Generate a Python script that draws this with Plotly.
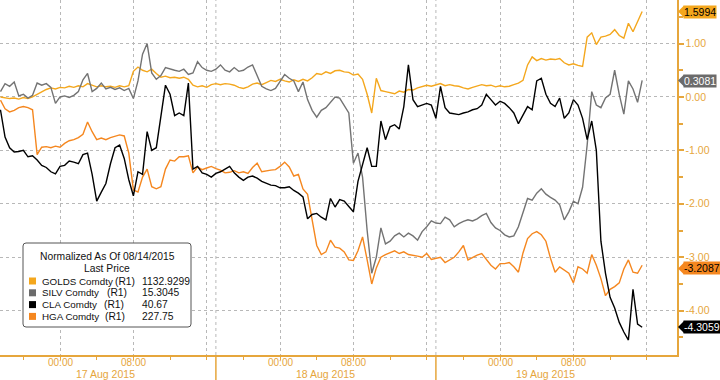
import plotly.graph_objects as go
import pandas as pd

# ---------------- data (normalized change, %), 30-minute samples ----------------
start_time = "2015-08-16 17:30"
sample_freq = "30min"

golds = [0.00, -0.02, -0.03, -0.02, -0.04, -0.01, -0.03, 0.00, 0.05, 0.10,
         0.14, 0.17, 0.15, 0.18, 0.17, 0.20, 0.18, 0.21, 0.19, 0.25,
         0.22, 0.19, 0.21, 0.19, 0.20, 0.18, 0.21, 0.19, 0.21, 0.48,
         0.56, 0.50, 0.47, 0.52, 0.44, 0.37, 0.39, 0.36, 0.37, 0.35,
         0.37, 0.33, 0.22, 0.19, 0.21, 0.18, 0.23, 0.25, 0.23, 0.25,
         0.24, 0.22, 0.18, 0.16, 0.19, 0.24, 0.26, 0.23, 0.27, 0.31,
         0.29, 0.33, 0.30, 0.28, 0.32, 0.29, 0.33, 0.30, 0.36, 0.44,
         0.42, 0.47, 0.44, 0.49, 0.50, 0.47, 0.46, 0.41, 0.43, 0.33,
         0.05, -0.30, 0.35, 0.12, 0.10, 0.08, 0.06, 0.11, 0.09, 0.14,
         0.13, 0.17, 0.19, 0.22, 0.20, 0.23, 0.25, 0.21, 0.23, 0.21,
         0.20, 0.17, 0.15, 0.18, 0.20, 0.23, 0.21, 0.22, 0.19, 0.21,
         0.19, 0.20, 0.23, 0.26, 0.31, 0.60, 0.75, 0.68, 0.72, 0.69,
         0.71, 0.70, 0.72, 0.64, 0.60, 0.62, 0.59, 0.57, 1.12, 1.20,
         0.98, 1.12, 1.14, 1.17, 1.26, 1.15, 1.10, 1.38, 1.22, 1.42,
         1.60]

silv = [0.10, 0.25, 0.20, 0.28, 0.02, 0.05, -0.02, 0.03, 0.26, 0.22,
        0.25, 0.18, -0.12, 0.00, 0.02, -0.01, 0.03, 0.10, 0.32, 0.44,
        0.10, 0.16, 0.26, 0.15, 0.18, 0.14, 0.17, 0.12, 0.16, -0.03,
        0.30, 0.80, 1.00, 0.45, 0.33, 0.40, 0.55, 0.52, 0.50, 0.48,
        0.52, 0.42, 0.45, 0.66, 0.55, 0.50, 0.48, 0.52, 0.60, 0.50,
        0.47, 0.55, 0.48, 0.50, 0.56, 0.60, 0.40, 0.20, 0.15, 0.12,
        0.16, 0.28, 0.42, 0.35, 0.30, 0.10, 0.28, -0.05, -0.25, -0.38,
        -0.25, -0.20, -0.10, 0.00, -0.02, -0.15, -0.30, -1.24, -1.05, -1.50,
        -2.50, -3.30, -3.00, -2.45, -2.75, -2.70, -2.60, -2.55, -2.62, -2.55,
        -2.60, -2.68, -2.52, -2.43, -2.32, -2.36, -2.37, -2.25, -2.30, -2.43,
        -2.37, -2.33, -2.30, -2.32, -2.28, -2.22, -2.18, -2.35, -2.45, -2.50,
        -2.58, -2.62, -2.60, -2.43, -2.15, -1.90, -1.93, -1.80, -1.72, -1.82,
        -1.88, -1.93, -2.02, -2.30, -2.15, -1.95, -2.00, -1.69, -0.90, 0.10,
        -0.15, -0.20, -0.02, 0.05, 0.50, 0.05, -0.32, 0.30, 0.15, -0.10,
        0.31]

cla = [-0.24, -0.75, -0.95, -1.03, -1.02, -1.00, -1.12, -1.10, -1.18, -1.28,
       -1.32, -1.40, -1.44, -1.30, -1.28, -1.20, -1.22, -1.25, -1.08, -1.05,
       -1.45, -1.95, -1.78, -1.62, -1.25, -0.95, -0.90, -1.15, -1.55, -1.85,
       -1.40, -1.45, -0.65, -1.00, -0.95, -0.35, 0.22, 0.05, -0.35, -0.30,
       -0.35, 0.26, -1.35, -1.30, -1.42, -1.45, -1.50, -1.43, -1.40, -1.35,
       -1.30, -1.42, -1.50, -1.56, -1.50, -1.48, -1.52, -1.58, -1.62, -1.65,
       -1.66, -1.70, -1.70, -1.68, -1.75, -1.80, -1.87, -2.28, -2.20, -2.18,
       -2.25, -2.30, -1.90, -2.06, -1.92, -1.95, -2.05, -2.15, -1.58, -1.25,
       -0.95, -1.30, -1.30, -0.45, -0.80, -0.56, -0.52, -0.60, -0.18, 0.60,
       -0.05, -0.18, -0.15, -0.12, -0.15, -0.40, 0.20, -0.20, -0.30, -0.32,
       -0.33, -0.30, -0.28, -0.24, -0.22, -0.15, 0.05, -0.05, -0.15, -0.08,
       -0.12, -0.20, -0.30, -0.50, -0.35, -0.18, -0.24, 0.30, 0.35, 0.05,
       -0.12, -0.18, -0.02, -0.40, -0.30, -0.05, -0.15, -0.40, -0.80, -0.45,
       -1.00, -2.70, -3.30, -3.75, -3.95, -4.22, -4.40, -4.55, -3.60, -4.25,
       -4.31]

hga = [-0.06, -0.22, -0.28, -0.25, -0.20, -0.18, -0.20, -0.24, -1.08, -0.94,
       -0.93, -0.95, -0.92, -0.94, -0.87, -0.82, -0.80, -0.76, -0.70, -0.47,
       -0.65, -0.80, -0.77, -0.80, -0.76, -0.74, -0.71, -0.73, -1.05, -1.74,
       -1.78, -1.50, -1.35, -1.68, -1.72, -1.68, -1.35, -1.18, -1.20, -1.12,
       -1.12, -1.10, -1.42, -1.31, -1.36, -1.33, -1.30, -1.34, -1.37, -1.42,
       -1.41, -1.38, -1.42, -1.40, -1.43, -1.32, -1.24, -1.40, -1.38, -1.37,
       -1.36, -1.30, -1.22, -1.31, -1.48, -1.45, -1.72, -1.82, -2.30, -2.78,
       -2.95, -2.90, -2.68, -2.81, -2.83, -2.90, -3.05, -3.06, -2.88, -2.62,
       -3.05, -3.50, -3.20, -3.00, -2.95, -2.92, -2.88, -2.93, -2.90, -2.95,
       -2.96, -2.98, -3.00, -2.93, -3.04, -3.02, -3.00, -3.10, -3.05, -3.00,
       -2.90, -2.78, -3.05, -3.00, -2.96, -2.93, -3.05, -3.15, -3.22, -3.12,
       -3.12, -3.10, -3.18, -3.28, -2.92, -2.65, -2.56, -2.52, -2.58, -2.70,
       -3.02, -3.28, -3.18, -3.24, -3.30, -3.48, -3.18, -3.22, -3.30, -2.95,
       -3.15, -3.40, -3.72, -3.60, -3.55, -3.48, -3.22, -3.05, -3.28, -3.30,
       -3.15]

series_names = ["GOLDS Comdty", "SILV Comdty", "CLA Comdty", "HGA Comdty"]
series_tag = "(R1)"
last_prices = ["1132.9299", "15.3045", "40.67", "227.75"]
end_values = [1.5994, 0.3081, -4.3059, -3.2087]
end_texts = ["1.5994", "0.3081", "-4.3059", "-3.2087"]

legend_title = ["Normalized As Of 08/14/2015", "Last Price"]
y_tick_vals = [1, 0, -1, -2, -3, -4]
y_tick_text = ["1.00", "0.00", "-1.00", "-2.00", "-3.00", "-4.00"]
day_labels = ["17 Aug 2015", "18 Aug 2015", "19 Aug 2015"]
day_dates = ["2015-08-17", "2015-08-18", "2015-08-19"]
hour_labels = ["00:00", "08:00", ""]
hour_offsets = [0, 8, 16]

# ---------------- styling ----------------
line_colors = ["#F4A71D", "#737373", "#000000", "#F5871F"]
label_bg = ["#F4A71D", "#6B6B6B", "#000000", "#F5871F"]
label_fg = ["#000000", "#FFFFFF", "#FFFFFF", "#000000"]
AX = "#E6A63C"
GRID = "#B8B8B8"
FONT = "Liberation Sans, Arial, sans-serif"

W, H = 720, 380
ML, MR, MT, MB = 0, 43, 0, 25
PW, PH = W - ML - MR, H - MT - MB
YR = [-4.83, 1.815]


def px(x):
    return x / PW


def py(y):
    return 1 - y / PH


times = pd.date_range(start_time, periods=len(golds), freq=sample_freq)
values = [golds, silv, cla, hga]

fig = go.Figure()
for k in [0, 1, 3, 2]:
    fig.add_trace(go.Scatter(x=times, y=values[k], mode="lines", name=series_names[k],
                             line=dict(color=line_colors[k], width=1.4), showlegend=False,
                             hoverinfo="skip"))

# x ticks
tickvals, ticktext = [], []
for d in day_dates:
    for h, lab in zip(hour_offsets, hour_labels):
        tickvals.append(pd.Timestamp(d) + pd.Timedelta(hours=h))
        ticktext.append(lab)

x0 = pd.Timestamp("2015-08-16 17:27")
x1 = pd.Timestamp("2015-08-19 19:18")

fig.update_layout(
    width=W, height=H, margin=dict(l=ML, r=MR, t=MT, b=MB),
    paper_bgcolor="white", plot_bgcolor="white",
    font=dict(family=FONT, size=10, color="#000"),
    showlegend=False,
    xaxis=dict(type="date", range=[x0, x1], tickmode="array", tickvals=tickvals,
               showticklabels=False,
               showgrid=True, gridcolor=GRID, griddash="dot", gridwidth=1,
               showline=True, linecolor=AX, linewidth=1.5,
               ticks="outside", ticklen=3, tickcolor=AX,
               minor=dict(ticks="outside", ticklen=3, tickcolor=AX, dtick=4 * 3600 * 1000,
                          tick0="2015-08-17 00:00", showgrid=False),
               zeroline=False, fixedrange=True),
    yaxis=dict(side="right", range=YR, tickmode="array", tickvals=y_tick_vals,
               ticktext=y_tick_text, showgrid=True, gridcolor=GRID, griddash="dot", gridwidth=1,
               showline=True, linecolor=AX, linewidth=1.5, zeroline=False,
               ticks="outside", ticklen=5, tickwidth=2, tickcolor=AX,
               tickfont=dict(color=AX, size=10.5, family=FONT),
               minor=dict(ticks="outside", ticklen=4, tickcolor=AX, dtick=0.5, tick0=0, showgrid=False),
               fixedrange=True),
)

shapes = []
annotations = []

# hour labels (axis tick text placed just under the axis)
for tv, tt in zip(tickvals, ticktext):
    if tt:
        annotations.append(dict(x=tv, xref="x", y=py(362), yref="paper", text=tt, showarrow=False,
                                xanchor="center", yanchor="middle",
                                font=dict(color=AX, size=10, family=FONT)))

# day separators at 17:00
for d in day_dates[:-1]:
    t = pd.Timestamp(d) + pd.Timedelta(hours=17)
    shapes.append(dict(type="line", xref="x", yref="paper", x0=t, x1=t, y0=0, y1=1,
                       line=dict(color=GRID, width=1, dash="dot"), layer="below"))
    shapes.append(dict(type="line", xref="x", yref="paper", x0=t, x1=t, y0=-MB / PH, y1=0,
                       line=dict(color=AX, width=1.5)))

# day labels
for d, lab in zip(day_dates, day_labels):
    t = pd.Timestamp(d) + pd.Timedelta(hours=5)
    annotations.append(dict(x=t, xref="x", y=py(374), yref="paper", text=lab, showarrow=False,
                            xanchor="center", yanchor="middle",
                            font=dict(color=AX, size=10.5, family=FONT)))

# end-value tags
hv = 6.0 / PH * (YR[1] - YR[0])
for v, txt, bg, fg in zip(end_values, end_texts, label_bg, label_fg):
    annotations.append(dict(x=1, xref="paper", y=v, yref="y", text=txt, showarrow=False,
                            xanchor="left", yanchor="middle", xshift=6, bgcolor=bg, borderpad=0,
                            font=dict(color=fg, size=10.5, family=FONT)))
    shapes.append(dict(type="path", xref="paper", yref="y",
                       path=f"M {px(PW + 1)} {v} L {px(PW + 7)} {v + hv} L {px(PW + 7)} {v - hv} Z",
                       fillcolor=bg, line=dict(width=0)))

# legend box (rounded)
bx0, bx1, by0, by1, r = 23, 191, 243, 327, 3
path = (f"M {px(bx0 + r)} {py(by0)} L {px(bx1 - r)} {py(by0)} "
        f"Q {px(bx1)} {py(by0)} {px(bx1)} {py(by0 + r)} L {px(bx1)} {py(by1 - r)} "
        f"Q {px(bx1)} {py(by1)} {px(bx1 - r)} {py(by1)} L {px(bx0 + r)} {py(by1)} "
        f"Q {px(bx0)} {py(by1)} {px(bx0)} {py(by1 - r)} L {px(bx0)} {py(by0 + r)} "
        f"Q {px(bx0)} {py(by0)} {px(bx0 + r)} {py(by0)} Z")
shapes.append(dict(type="path", xref="paper", yref="paper", path=path,
                   fillcolor="white", line=dict(color="#555555", width=1)))

LF = dict(color="#111", size=10.3, family=FONT)
for i, t in enumerate(legend_title):
    annotations.append(dict(x=px(107), xref="paper", y=py(256 + 12 * i), yref="paper", text=t,
                            showarrow=False, xanchor="center", yanchor="middle", font=LF))

tag_x = [113, 105, 102, 103]
for i, (nm, lp, col) in enumerate(zip(series_names, last_prices, label_bg)):
    yc = 281 + 11.8 * i
    shapes.append(dict(type="rect", xref="paper", yref="paper", x0=px(29), x1=px(36),
                       y0=py(yc - 3.5), y1=py(yc + 3.5), fillcolor=col, line=dict(width=0)))
    annotations.append(dict(x=px(40), xref="paper", y=py(yc), yref="paper", text=nm,
                            showarrow=False, xanchor="left", yanchor="middle",
                            font=dict(color="#111", size=9.8, family=FONT)))
    annotations.append(dict(x=px(tag_x[i]), xref="paper", y=py(yc), yref="paper", text=series_tag,
                            showarrow=False, xanchor="left", yanchor="middle", font=LF))
    annotations.append(dict(x=px(140), xref="paper", y=py(yc), yref="paper", text=lp,
                            showarrow=False, xanchor="left", yanchor="middle", font=LF))

fig.update_layout(shapes=shapes, annotations=annotations)
fig.write_html("out.html", config={"displayModeBar": False, "staticPlot": True},
               post_script="document.body.style.margin='0';document.body.style.overflow='hidden';")
